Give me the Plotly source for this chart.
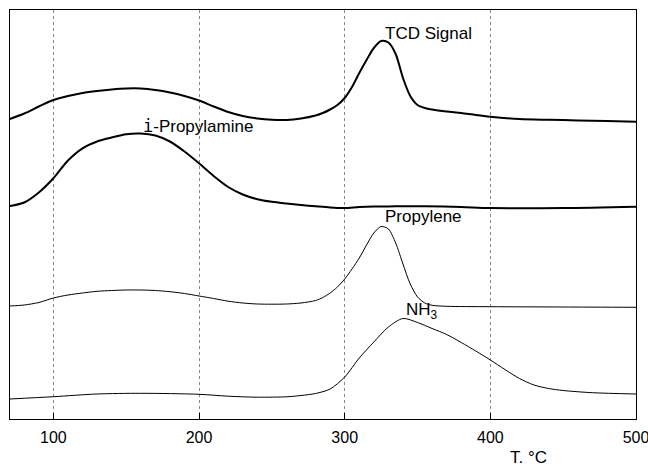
import plotly.graph_objects as go

# Temperature (°C) and signal values (arbitrary units, stacked as drawn)
tcd_T = [70, 80, 90, 100, 110, 120, 130, 140, 150, 160, 170, 180, 190, 200, 210, 220, 230, 240, 250, 260, 270, 280,
         285, 290, 295, 300, 305, 310, 315, 320, 325, 330, 335, 340, 345, 350, 355, 360, 370, 380, 390, 400, 420, 440, 460, 480, 500]
tcd_y = [300, 305.5, 312.5, 319, 323, 326, 328, 329.5, 330.5, 330.5, 329, 326.5, 323, 318.5, 312.5, 307, 303, 300.5, 299.2, 299, 300.5, 303.5,
         306, 309.5, 314, 321, 332, 346, 359, 371, 378, 376.5, 365, 341, 323, 314, 311, 309.5, 307.5, 306, 304, 302.3, 300, 299.2, 298.6, 298, 297.3]

ipa_T = [70, 80, 90, 100, 110, 120, 130, 140, 150, 160, 170, 180, 190, 200, 210, 220, 230, 240, 250, 260, 270, 280, 290, 300,
         310, 320, 330, 340, 355, 380, 400, 450, 500]
ipa_y = [213, 216.5, 226.5, 240.7, 258.5, 270.7, 277.5, 281.5, 284.8, 285.5, 283.5, 277.5, 267.5, 255.7, 243, 232, 224.5, 219.8, 217.2, 215.5, 214, 212.7, 211.5, 211,
         212, 212.5, 212.5, 212.8, 212.8, 212, 211, 211, 212.3]

pro_T = [70, 80, 90, 100, 110, 120, 130, 140, 150, 160, 170, 180, 190, 200, 210, 220, 230, 240, 250, 260, 270, 280,
         285, 290, 295, 300, 305, 310, 315, 320, 325, 330, 335, 340, 345, 350, 355, 360, 370, 400, 450, 500]
pro_y = [113, 114, 116.5, 121, 124, 126, 127.7, 128.5, 129, 129, 128.5, 127.3, 125.5, 123, 120.5, 117.8, 116, 115, 114.8, 115, 116, 118.5,
         121.5, 126, 132, 140, 150, 161, 174, 186, 192.5, 190, 176, 155, 135, 122, 116, 113.7, 112.7, 112.3, 112, 111.7]

nh3_T = [70, 100, 130, 160, 200, 220, 240, 260, 270, 280, 290, 300, 310, 320, 330, 340, 350, 360, 370, 380, 390, 400,
         410, 420, 430, 440, 450, 470, 500]
nh3_y = [20, 22.3, 25, 25.7, 24.7, 22.8, 21.8, 22.2, 23.5, 25.5, 30, 42, 61, 77, 92, 100.5, 96.5, 90.5, 84.5, 76.5, 68, 59,
         49.5, 40.5, 34, 30.5, 28.5, 26.3, 25]

x_ticks = [100, 200, 300, 400, 500]
x_tick_labels = ["100", "200", "300", "400", "500"]

FONT = "Liberation Sans, Arial, sans-serif"

fig = go.Figure()
series = [
    (tcd_T, tcd_y, 2.0),
    (ipa_T, ipa_y, 2.0),
    (pro_T, pro_y, 1.0),
    (nh3_T, nh3_y, 1.0),
]
for xs, ys, w in series:
    fig.add_trace(go.Scatter(x=xs, y=ys, mode="lines",
                             line=dict(color="black", width=w, shape="spline", smoothing=0.8),
                             hoverinfo="skip", showlegend=False))

ann_font = dict(family=FONT, size=17, color="black")
fig.add_annotation(x=326.5, y=386, xref="x", yref="y", text="TCD Signal",
                   showarrow=False, xanchor="left", yanchor="middle", font=ann_font)
fig.add_annotation(x=160, y=293, xref="x", yref="y",
                   text="<span style=\"font-family:'DejaVu Sans Mono'\">i</span>-Propylamine",
                   showarrow=False, xanchor="left", yanchor="middle", font=ann_font)
fig.add_annotation(x=326, y=203, xref="x", yref="y", text="Propylene",
                   showarrow=False, xanchor="left", yanchor="middle", font=ann_font)
fig.add_annotation(x=340.5, y=108, xref="x", yref="y", text="NH<sub>3</sub>",
                   showarrow=False, xanchor="left", yanchor="middle", font=ann_font)
fig.add_annotation(x=(528 - 10) / 626, y=(419 - 457) / 409, xref="paper", yref="paper",
                   text="T. °C", showarrow=False, xanchor="center", yanchor="middle",
                   font=ann_font)

fig.update_layout(
    width=648, height=467,
    margin=dict(l=10, r=12, t=10, b=48),
    paper_bgcolor="white", plot_bgcolor="white",
    font=dict(family=FONT, size=16, color="black"),
    xaxis=dict(range=[70.2, 500], tickvals=x_ticks, ticktext=x_tick_labels,
               ticks="inside", ticklen=6, tickcolor="black", tickwidth=1,
               showline=True, linecolor="black", linewidth=1, mirror=True,
               showgrid=True, gridcolor="#888888", gridwidth=1, griddash="dot",
               zeroline=False, automargin=False, ticklabeloverflow="allow",
               ticklabelstandoff=4,
               tickfont=dict(family=FONT, size=16, color="black")),
    yaxis=dict(range=[0, 409], showticklabels=False, ticks="",
               showline=True, linecolor="black", linewidth=1, mirror=True,
               showgrid=False, zeroline=False, automargin=False),
)

fig.write_html("out.html", config={"displayModeBar": False},
               post_script="document.body.style.margin='0';document.body.style.padding='0';document.body.style.overflow='hidden';")
